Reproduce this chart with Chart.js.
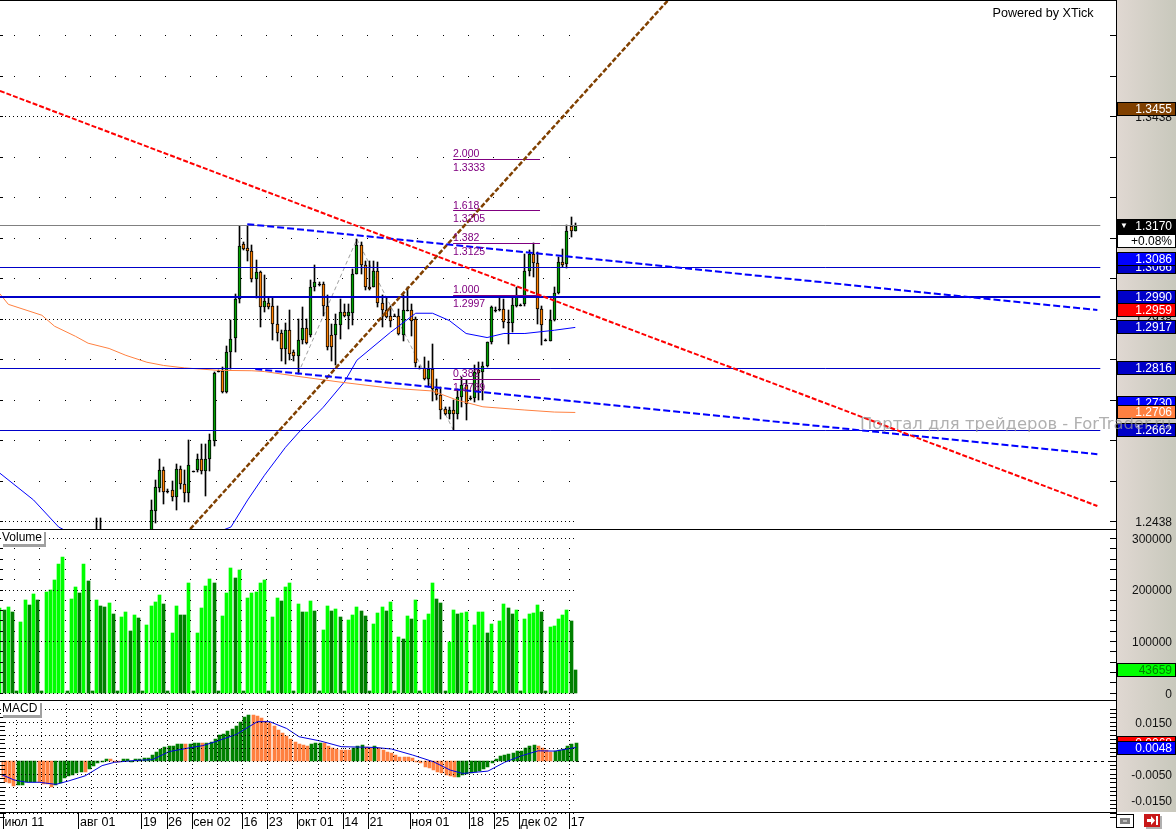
<!DOCTYPE html>
<html>
<head>
<meta charset="utf-8">
<title>XTick chart</title>
<script src="https://cdn.jsdelivr.net/npm/chart.js@4"></script>
<style>
    html, body { margin: 0; padding: 0; background: #fff; overflow: hidden; }
    canvas { display: block; }
</style>
</head>
<body>
<canvas id="priceChart" width="1176" height="530"></canvas>
<canvas id="volumeChart" width="1176" height="171"></canvas>
<canvas id="macdChart" width="1176" height="128"></canvas>
<script>
// candles are only visible from bar 35, volume and macd start one bar left of the edge
const firstCandle = 35;
const firstBar = -1;
const opens = [1.2415,1.2463,1.2520,1.2563,1.2512,1.2514,1.2498,1.2567,1.2530,1.2507,
    1.2562,1.2563,1.2592,1.2562,1.2591,1.2636,1.2808,1.2808,1.2756,1.2855,
    1.2889,1.2986,1.3122,1.3112,1.3105,1.3035,1.3054,1.2966,1.2976,1.2969,
    1.2925,1.2903,1.2863,1.2910,1.2855,1.2846,1.2885,1.2915,1.2898,1.3016,
    1.3023,1.3023,1.2969,1.2897,1.2897,1.2923,1.2954,1.2943,1.2952,1.3048,
    1.3119,1.3071,1.3017,1.3017,1.3055,1.2976,1.2959,1.2943,1.2945,1.2945,
    1.2898,1.2958,1.2959,1.2937,1.2816,1.2816,1.2789,1.2814,1.2765,1.2748,
    1.2715,1.2703,1.2713,1.2701,1.2744,1.2773,1.2742,1.2742,1.2810,1.2805,
    1.2820,1.2880,1.2960,1.2961,1.2962,1.2929,1.2928,1.2970,1.2972,1.2973,
    1.3056,1.3097,1.3075,1.2962,1.2885,1.2882,1.2935,1.3001,1.3078,1.3073,
    1.3167,1.3155];
const highs = [1.2489,1.2539,1.2590,1.2572,1.2516,1.2536,1.2578,1.2573,1.2563,1.2637,
    1.2562,1.2604,1.2627,1.2627,1.2652,1.2806,1.2811,1.2818,1.2871,1.2935,
    1.2999,1.3167,1.3126,1.3167,1.3120,1.3082,1.3056,1.3046,1.2989,1.2989,
    1.2970,1.2910,1.2928,1.2958,1.2859,1.2937,1.2966,1.2937,1.3032,1.3070,
    1.3027,1.3027,1.2995,1.2925,1.2949,1.2987,1.2974,1.2974,1.3060,1.3134,
    1.3126,1.3081,1.3079,1.3081,1.3077,1.2995,1.2990,1.2970,1.2948,1.2962,
    1.2995,1.3017,1.2974,1.2941,1.2820,1.2843,1.2834,1.2875,1.2789,1.2769,
    1.2719,1.2719,1.2736,1.2765,1.2793,1.2785,1.2746,1.2822,1.2830,1.2830,
    1.2880,1.2970,1.2966,1.2989,1.2986,1.2958,1.2989,1.3015,1.2974,1.3097,
    1.3107,1.3124,1.3101,1.2970,1.2887,1.2958,1.3017,1.3089,1.3110,1.3170,
    1.3189,1.3174];
const lows = [1.2410,1.2432,1.2510,1.2481,1.2507,1.2488,1.2465,1.2516,1.2485,1.2485,
    1.2562,1.2558,1.2553,1.2500,1.2562,1.2622,1.2805,1.2754,1.2754,1.2814,
    1.2855,1.2976,1.3107,1.3079,1.3027,1.2989,1.2917,1.2953,1.2962,1.2886,
    1.2882,1.2833,1.2826,1.2836,1.2834,1.2802,1.2875,1.2875,1.2892,1.3007,
    1.3019,1.2945,1.2859,1.2833,1.2822,1.2888,1.2941,1.2912,1.2921,1.3048,
    1.3048,1.3009,1.3009,1.3015,1.2966,1.2917,1.2940,1.2917,1.2943,1.2898,
    1.2882,1.2956,1.2896,1.2818,1.2813,1.2785,1.2769,1.2734,1.2736,1.2691,
    1.2699,1.2691,1.2662,1.2691,1.2719,1.2687,1.2738,1.2732,1.2736,1.2736,
    1.2818,1.2875,1.2953,1.2956,1.2915,1.2875,1.2904,1.2966,1.2969,1.2970,
    1.3044,1.3040,1.2925,1.2872,1.2883,1.2882,1.2933,1.2999,1.3064,1.3063,
    1.3140,1.3153];
const closes = [1.2465,1.2521,1.2563,1.2510,1.2512,1.2498,1.2567,1.2529,1.2507,1.2577,
    1.2562,1.2592,1.2562,1.2592,1.2637,1.2804,1.2808,1.2756,1.2856,1.2888,
    1.2986,1.3118,1.3110,1.3104,1.3036,1.3054,1.2966,1.2982,1.2967,1.2925,
    1.2903,1.2863,1.2910,1.2851,1.2846,1.2885,1.2915,1.2877,1.3016,1.3027,
    1.3023,1.2969,1.2867,1.2867,1.2925,1.2953,1.2943,1.2953,1.3048,1.3119,
    1.3070,1.3017,1.3012,1.3056,1.2976,1.2958,1.2941,1.2931,1.2945,1.2900,
    1.2958,1.2958,1.2931,1.2828,1.2816,1.2789,1.2814,1.2765,1.2748,1.2713,
    1.2703,1.2713,1.2703,1.2744,1.2773,1.2728,1.2742,1.2806,1.2803,1.2821,
    1.2880,1.2966,1.2960,1.2961,1.2929,1.2929,1.2972,1.2996,1.2972,1.3056,
    1.3097,1.3074,1.2962,1.2923,1.2885,1.2935,1.3001,1.3077,1.3071,1.3155,
    1.3155,1.3166];
// two wicks poke up into the panel before the candles start
const earlyWickBars = [22, 23];
const earlyWickHighs = [1.2445, 1.2445];

const volumes = [164000,160200,165400,155700,3200,136300,178900,169900,190600,178900,3200,
    194400,198300,217700,248700,262300,3200,181500,204800,192500,248700,
    215800,3200,178900,167300,165400,173100,151800,3200,146000,155700,
    118900,149900,144100,3200,131100,167300,175100,188600,171200,3200,
    115000,167300,149900,149900,211900,3200,115000,163400,206100,219600,
    211900,3200,147900,192500,241000,221600,237100,3200,182800,192500,
    194400,211900,217700,3200,146000,182800,177000,204100,211900,3200,
    171200,155700,155700,177000,157600,3200,120800,167300,157600,161500,
    146000,3200,140200,149900,165400,157600,147900,3200,132400,153700,
    165400,157600,175100,3200,107200,103400,147900,142100,178900,3200,
    140200,151800,211900,180900,173100,3200,97500,159600,151800,153700,
    155700,3200,130500,155700,155700,115000,132400,3200,138200,171200,
    163400,151800,159600,3200,142100,151800,153700,169300,155700,3200,
    127300,128600,142100,149900,159600,138200,43659];
const volumeRising = [1,0,1,0,0,1,1,0,1,0,0,1,1,1,1,1,0,1,1,0,1,0,0,1,0,0,1,0,0,1,1,0,1,0,0,
    1,1,1,1,0,0,1,1,0,0,1,0,1,1,1,1,0,0,1,1,1,0,1,0,1,1,1,1,1,0,1,1,0,1,1,0,
    1,0,1,1,0,0,1,1,0,1,0,0,1,1,1,0,0,0,1,1,1,0,1,0,1,0,1,0,1,0,1,1,1,0,0,0,
    1,1,0,1,1,0,1,1,1,0,1,0,1,1,0,0,1,0,1,1,1,1,0,0,1,1,1,1,1,0,0];

const macdHist = [-0.0062,-0.0081,-0.0086,-0.0096,-0.0094,-0.0094,-0.0081,-0.0081,-0.0081,-0.0081,-0.0091,
    -0.0091,-0.0100,-0.0094,-0.0085,-0.0068,-0.0058,-0.0055,-0.0049,-0.0045,-0.0045,
    -0.0033,-0.0019,-0.0010,-0.0002,0.0006,0.0005,-0.0002,-0.0002,0.0005,0.0005,
    -0.0002,0.0005,0.0006,0.0009,0.0009,0.0021,0.0035,0.0045,0.0054,0.0055,
    0.0058,0.0064,0.0064,0.0064,0.0064,0.0068,0.0068,0.0068,0.0067,0.0071,
    0.0083,0.0099,0.0101,0.0114,0.0121,0.0133,0.0150,0.0169,0.0176,0.0176,
    0.0172,0.0165,0.0153,0.0144,0.0133,0.0119,0.0108,0.0096,0.0082,0.0073,
    0.0063,0.0060,0.0056,0.0064,0.0068,0.0068,0.0068,0.0056,0.0049,0.0045,
    0.0041,0.0041,0.0041,0.0050,0.0056,0.0060,0.0054,0.0050,0.0056,0.0050,
    0.0041,0.0035,0.0031,0.0022,0.0015,0.0015,0.0014,0.0009,-0.0001,-0.0010,
    -0.0023,-0.0027,-0.0036,-0.0042,-0.0049,-0.0055,-0.0058,-0.0062,-0.0062,-0.0055,
    -0.0053,-0.0049,-0.0042,-0.0040,-0.0033,-0.0023,-0.0010,0.0006,0.0018,0.0022,
    0.0026,0.0029,0.0037,0.0037,0.0047,0.0056,0.0060,0.0056,0.0049,0.0041,
    0.0035,0.0037,0.0041,0.0045,0.0056,0.0064,0.0068];
const macdFallingBars = [-1,0,1,2,8,9,10,11,19,25,26,27,43,47,59,60,61,62,63,64,65,66,67,68,69,70,71,72,
    76,77,78,79,80,81,82,86,87,89,90,91,92,93,94,95,96,97,98,99,100,101,102,103,104,105,106,107,
    127,128,129,130];
const signalBars = [-1,2,5,8,12,15,19,23,26,31,35,39,43,47,50,55,60,63,67,70,75,80,88,92,97,102,106,109,115,119,123,127,131,136];
const signalValues = [-0.0053,-0.0074,-0.0083,-0.0083,-0.0091,-0.0078,-0.0058,-0.0019,-0.0006,0.0001,0.0004,0.0035,0.0047,0.0058,
    0.0073,0.0101,0.0150,0.0150,0.0124,0.0092,0.0076,0.0054,0.0051,0.0045,0.0022,-0.0004,-0.0036,-0.0049,-0.0040,-0.0006,0.0019,0.0038,0.0037,0.0051];
const signalLast = 0.0048;

const slowMaBars = [-1,1,9,12,17,20,25,29,34,38,43,51,59,62,70,80,92,102,108,114,124,131,136];
const slowMaValues = [1.2999,1.2973,1.2946,1.2919,1.2894,1.2877,1.2864,1.2847,1.2830,1.2822,1.2816,1.2810,1.2809,1.2807,1.2795,
    1.2781,1.2766,1.2759,1.2736,1.2720,1.2712,1.2707,1.2706];
const fastMaBars = [-1,7,13,30,54,58,62,67,70,76,81,84,92,98,102,106,110,115,119,124,131,136];
const fastMaValues = [1.2556,1.2490,1.2423,1.2330,1.2423,1.2490,1.2551,1.2620,1.2655,1.2719,1.2781,1.2835,1.2904,1.2951,1.2951,
    1.2933,1.2901,1.2891,1.2901,1.2901,1.2909,1.2916];

const redTrendBars = [-1, 260.3];
const redTrendPrices = [1.3500, 1.2475];
const upperTrendBars = [57.9, 260.3];
const upperTrendPrices = [1.3171, 1.2959];
const lowerTrendBars = [59.8, 260.3];
const lowerTrendPrices = [1.2813, 1.2603];
const brownTrendBars = [44.3, 158.1];
const brownTrendPrices = [1.2418, 1.3724];
const zigzagBars = [70, 84, 107];
const zigzagPrices = [1.2802, 1.3134, 1.2662];

const blueLevels = [1.3066, 1.2816, 1.2662];
const thickLevel = 1.2990;
const lastPrice = 1.3170;
const levelBars = [-1, 261];

const fibBars = [106.9, 127.6];
const fibRatios = ['2.000', '1.618', '1.382', '1.000', '0.382'];
const fibPrices = [1.3333, 1.3205, 1.3125, 1.2997, 1.2789];

const priceTicks = [1.2438,1.2538,1.2638,1.2738,1.2838,1.2938,1.3038,1.3138,1.3238,1.3338,1.3438,1.3538,1.3638];
const priceTickLabels = [1.2438, 1.2938, 1.3438];
const volumeTicks = [0,20000,40000,60000,80000,100000,120000,140000,160000,180000,200000,220000,240000,260000,280000,300000];
const volumeTickLabels = [0, 100000, 200000, 300000];
const macdTickLabels = [0.0150, 0.0050, -0.0050, -0.0150];

const dateBars = [-0.5,17.5,32.5,38.5,44.5,56.5,62.5,69.5,80.5,86.5,96.5,110.5,116.5,122.5,134.5];
const dateLabels = ['июл 11','авг 01','19','26','сен 02','16','23','окт 01','14','21','ноя 01','18','25','дек 02','17'];

const FONT = '"Liberation Sans", Arial, sans-serif';
const PURPLE = '#800080';
const NAVY = '#0000c8';
const BLUE = '#0000ff';
const ORANGE = '#ff8040';
const xMin = -4.1 / 4.2;
const xMax = (1116 - 4.1) / 4.2;
const gridEnd = 576;

let gridBars = [];
for (let b = 2.5; b <= 134.5; b += 6) {
    gridBars.push(b);
}

let macdTicks = [];
for (let k = -3; k <= 22; k++) {
    const v = 0.015 - k * 0.01 / 6;
    macdTicks.push({
        value: v,
        label: k >= 0 && k % 6 === 0 && macdTickLabels[k / 6] !== undefined ? macdTickLabels[k / 6].toFixed(4) : '',
        row: k % 3 === 0 ? 'dense' : 'none'
    });
}

function zip(xs, ys) {
    return xs.map((x, i) => ({ x: x, y: ys[i] }));
}

function line(xs, ys, color, width, dash, extra) {
    return Object.assign({
        type: 'line',
        data: zip(xs, ys),
        borderColor: color,
        borderWidth: width,
        borderDash: dash || [],
        pointRadius: 0,
        tension: 0,
        order: 3
    }, extra || {});
}

function level(price, color, width) {
    return line(levelBars, [price, price], color, width, null, { snapY: true, order: 2 });
}

function tagBox(ctx, top, h, bg, fg, text) {
    ctx.fillStyle = bg;
    ctx.fillRect(1117, top, 59, h);
    ctx.strokeStyle = '#000';
    ctx.lineWidth = 1;
    ctx.strokeRect(1117.5, top + 0.5, 58, h - 1);
    if (text) {
        ctx.fillStyle = fg;
        ctx.font = '12px ' + FONT;
        ctx.textAlign = 'right';
        ctx.textBaseline = 'middle';
        ctx.fillText(text, 1172, top + h / 2 + 0.5);
    }
}

// bars land on whole pixels, like the original terminal draws them
const snapPlugin = {
    id: 'snap',
    afterDatasetsUpdate(chart) {
        chart.data.datasets.forEach((ds, i) => {
            const meta = chart.getDatasetMeta(i);
            if (meta.type === 'bar') {
                meta.data.forEach(el => {
                    el.x = Math.floor(el.x) + 0.5;
                    el.y = Math.round(el.y);
                    el.base = Math.round(el.base);
                    if (el.y === el.base) el.base = el.y + 1;
                });
            } else if (ds.snapY) {
                meta.data.forEach(p => {
                    p.y = Math.round(p.y) + (ds.borderWidth % 2 ? 0.5 : 0);
                });
            }
        });
    }
};

function drawGrid(chart, cfg) {
    const ctx = chart.ctx;
    const xs = chart.scales.x;
    const ys = chart.scales.y;
    ctx.save();
    ctx.fillStyle = '#000';
    const gridX = gridBars.map(b => Math.floor(xs.getPixelForValue(b)));
    ys.ticks.forEach(t => {
        const y = Math.round(ys.getPixelForValue(t.value));
        if (t.row === 'dense') {
            for (let x = 1; x < gridEnd; x += 4) ctx.fillRect(x, y, 1, 1);
        } else if (t.row === 'sparse') {
            gridX.forEach(x => ctx.fillRect(x, y, 1, 1));
        }
    });
    if (cfg.denseColumns) {
        gridX.forEach(x => {
            for (let y = chart.chartArea.top + 3; y < chart.chartArea.bottom; y += 4) ctx.fillRect(x, y, 1, 1);
        });
    }
    ctx.restore();
}

function panelPlugin(cfg) {
    return {
        id: 'panel',
        beforeDatasetsDraw(chart) {
            if (!cfg.gridOnTop) drawGrid(chart, cfg);
        },
        afterDatasetsDraw(chart) {
            if (cfg.gridOnTop) drawGrid(chart, cfg);
        },
        beforeDraw(chart) {
            const ctx = chart.ctx;
            const bottom = chart.chartArea.bottom;
            const grad = ctx.createLinearGradient(1117, 0, 1176, 0);
            grad.addColorStop(0, '#e0d8d2');
            grad.addColorStop(1, '#c8c8bc');
            ctx.fillStyle = grad;
            ctx.fillRect(1117, 0, 59, bottom);
        },
        afterDraw(chart) {
            const ctx = chart.ctx;
            const ys = chart.scales.y;
            const bottom = chart.chartArea.bottom;
            ctx.save();
            ctx.fillStyle = '#000';
            ys.ticks.forEach(t => {
                const y = Math.round(ys.getPixelForValue(t.value));
                ctx.fillRect(0, y, cfg.leftTick, 1);
                ctx.fillRect(1110, y, 7, 1);
            });
            ctx.fillRect(1116, 0, 1, bottom);
            ctx.fillRect(0, cfg.lineY, 1117, 1);
            if (cfg.after) cfg.after(chart, ctx);
            ctx.restore();
        }
    };
}

function createPanel(id, cfg) {
    const ctx = document.getElementById(id).getContext('2d');
    return new Chart(ctx, {
        type: 'bar',
        data: { datasets: cfg.datasets },
        plugins: [snapPlugin, panelPlugin(cfg)],
        options: {
            responsive: false,
            animation: false,
            events: [],
            // the 4px on the right keeps the far-aligned tick labels off the window edge
            layout: { padding: { right: 4 }, autoPadding: false },
            plugins: { legend: { display: false }, tooltip: { enabled: false } },
            scales: {
                x: Object.assign({
                    type: 'linear',
                    display: false,
                    min: xMin,
                    max: xMax,
                    offset: false,
                    bounds: 'data',
                    grid: { display: false, offset: false }
                }, cfg.x || {}),
                y: {
                    type: 'linear',
                    position: 'right',
                    min: cfg.min,
                    max: cfg.max,
                    bounds: 'data',
                    border: { display: false },
                    grid: { display: false, drawTicks: false },
                    afterBuildTicks: s => { s.ticks = cfg.ticks.map(t => Object.assign({}, t)); },
                    afterFit: s => {
                        s.width = 56;
                        s.paddingTop = 0;
                        s.paddingBottom = 0;
                    },
                    ticks: {
                        autoSkip: false,
                        padding: 0,
                        labelOffset: 1.5,
                        crossAlign: 'far',
                        color: '#111',
                        font: { family: FONT, size: 12 },
                        callback: (v, i, ticks) => ticks[i].label
                    }
                }
            }
        }
    });
}

function legendBox(ctx, text, w) {
    ctx.fillStyle = '#a0a0a0';
    ctx.fillRect(3, 2, w, 15);
    ctx.fillStyle = '#fff';
    ctx.fillRect(1, 0, w, 14);
    ctx.fillStyle = '#000';
    ctx.font = '12px ' + FONT;
    ctx.textAlign = 'left';
    ctx.textBaseline = 'middle';
    ctx.fillText(text, 2, 8);
}

// price panel
const candleBars = opens.map((_, i) => firstCandle + i);
const wickData = candleBars.map((b, i) => ({ x: b, y: [lows[i], highs[i]] }))
    .concat(earlyWickBars.map((b, i) => ({ x: b, y: [1.2380, earlyWickHighs[i]] })));
const bodyColors = opens.map((o, i) => {
    if (o === closes[i]) return '#000';
    return closes[i] > o ? '#00a000' : '#ff8000';
});

const priceDatasets = [
    { data: wickData, backgroundColor: '#000', barThickness: 1, grouped: false, order: 11 },
    {
        data: candleBars.map((b, i) => ({ x: b, y: [opens[i], closes[i]] })),
        backgroundColor: bodyColors,
        borderColor: '#000',
        borderWidth: 1,
        borderSkipped: false,
        barThickness: 3,
        grouped: false,
        order: 10
    },
    line(slowMaBars, slowMaValues, ORANGE, 1),
    line(fastMaBars, fastMaValues, BLUE, 1),
    line(zigzagBars, zigzagPrices, '#a0a0a0', 1, [4, 3], { order: 12 }),
    level(lastPrice, '#808080', 1),
    level(thickLevel, NAVY, 2)
];
blueLevels.forEach(p => priceDatasets.push(level(p, NAVY, 1)));
fibPrices.forEach(p => priceDatasets.push(line(fibBars, [p, p], PURPLE, 1, null, { snapY: true, order: 2 })));
priceDatasets.push(line(redTrendBars, redTrendPrices, '#ff0000', 2, [5, 2], { order: 1 }));
priceDatasets.push(line(upperTrendBars, upperTrendPrices, BLUE, 2, [7, 3], { order: 1 }));
priceDatasets.push(line(lowerTrendBars, lowerTrendPrices, BLUE, 2, [7, 3], { order: 1 }));
priceDatasets.push(line(brownTrendBars, brownTrendPrices, '#804000', 2.5, [5, 2], { order: 1 }));

const priceTags = [
    [1.3455, '#804000', '#fff'],
    [1.3066, NAVY, '#fff'],
    [1.3086, BLUE, '#fff'],
    [1.2917, NAVY, '#fff'],
    [1.2990, NAVY, '#fff'],
    [1.2959, '#ff0000', '#fff'],
    [1.2816, NAVY, '#fff'],
    [1.2730, BLUE, '#fff'],
    [1.2706, ORANGE, '#fff'],
    [1.2662, NAVY, '#fff']
];

function drawPriceExtras(chart, ctx) {
    const ys = chart.scales.y;
    const xs = chart.scales.x;
    ctx.fillRect(0, 0, 1117, 1);

    // fibonacci captions
    ctx.font = '10.5px ' + FONT;
    ctx.fillStyle = PURPLE;
    ctx.textAlign = 'left';
    ctx.textBaseline = 'alphabetic';
    const fx = xs.getPixelForValue(fibBars[0]);
    fibPrices.forEach((p, i) => {
        const y = ys.getPixelForValue(p);
        ctx.fillText(fibRatios[i], fx, y - 1.5);
        ctx.fillText(p.toFixed(4), fx, y + 12);
    });

    priceTags.forEach(t => {
        const y = Math.round(ys.getPixelForValue(t[0]));
        tagBox(ctx, y - 7, 14, t[1], t[2], t[0].toFixed(4));
    });
    const lastY = Math.round(ys.getPixelForValue(lastPrice));
    tagBox(ctx, lastY - 6, 15, '#000', '#fff', lastPrice.toFixed(4));
    tagBox(ctx, lastY + 9, 14, '#fff', '#000', '+0.08%');
    ctx.fillStyle = '#fff';
    ctx.font = '8px ' + FONT;
    ctx.textAlign = 'left';
    ctx.fillText('▼', 1120, lastY + 1);

    ctx.fillStyle = '#000';
    ctx.font = '12.6px ' + FONT;
    ctx.textAlign = 'left';
    ctx.textBaseline = 'middle';
    ctx.fillText('Powered by XTick', 992.5, 14);

    ctx.fillStyle = 'rgba(150, 150, 150, 0.75)';
    ctx.font = '16.4px "DejaVu Sans", sans-serif';
    ctx.fillText('Портал для трейдеров - ForTrader.ru', 860, 425);
}

const priceTickList = priceTicks.map(v => ({
    value: v,
    label: priceTickLabels.includes(v) ? v.toFixed(4) : '',
    row: priceTickLabels.includes(v) ? 'dense' : 'sparse'
}));

createPanel('priceChart', {
    datasets: priceDatasets,
    min: 1.2438 - 9 / 4050,
    max: 1.2438 + 521 / 4050,
    ticks: priceTickList,
    leftTick: 3,
    lineY: 529,
    after: drawPriceExtras
});

// volume panel
const volumeTickList = volumeTicks.map(v => ({
    value: v,
    label: volumeTickLabels.includes(v) ? String(v) : '',
    row: volumeTickLabels.includes(v) ? 'dense' : 'sparse'
}));

createPanel('volumeChart', {
    datasets: [{
        data: volumes.map((v, i) => ({ x: i + firstBar, y: v })),
        backgroundColor: volumeRising.map(r => (r ? '#00ff00' : '#008000')),
        barThickness: 3,
        grouped: false,
        order: 5
    }],
    min: -(171 - 162.7) / 51.6 * 100000,
    max: 162.7 / 51.6 * 100000,
    ticks: volumeTickList,
    leftTick: 3,
    lineY: 170,
    gridOnTop: true,
    after(chart, ctx) {
        const y = Math.round(chart.scales.y.getPixelForValue(volumes[volumes.length - 1]));
        tagBox(ctx, y - 7, 14, '#00ff00', '#008000', String(volumes[volumes.length - 1]));
        legendBox(ctx, 'Volume', 43);
    }
});

// macd panel
function drawMacdExtras(chart, ctx) {
    const ys = chart.scales.y;
    const xs = chart.scales.x;
    const bottom = chart.chartArea.bottom;

    dateBars.forEach(b => {
        ctx.fillRect(Math.floor(xs.getPixelForValue(b)), bottom, 1, 17);
    });

    const histLast = macdHist[macdHist.length - 1];
    tagBox(ctx, Math.round(ys.getPixelForValue(histLast)) - 7, 14, '#ff0000', '#fff', histLast.toFixed(4));
    tagBox(ctx, Math.round(ys.getPixelForValue(signalLast)) - 7, 14, BLUE, '#fff', signalLast.toFixed(4));
    legendBox(ctx, 'MACD', 39);

    // link and exit buttons, bottom right
    ctx.fillStyle = '#fff';
    ctx.fillRect(1117, bottom, 59, 17);
    ctx.fillStyle = '#000';
    ctx.fillRect(1116, 113, 18, 14);
    ctx.fillStyle = '#fff';
    ctx.fillRect(1117, 114, 16, 12);
    ctx.fillStyle = '#808080';
    ctx.fillRect(1120, 117, 10, 6);
    ctx.fillStyle = '#c0c0c0';
    ctx.fillRect(1123, 119, 4, 2);
    ctx.fillStyle = '#b0b0b0';
    ctx.fillRect(1146, 115, 16, 13);
    ctx.fillStyle = '#c81818';
    ctx.fillRect(1144, 113, 16, 13);
    ctx.fillStyle = '#fff';
    ctx.fillRect(1147, 118, 5, 3);
    ctx.fillRect(1156, 115, 2, 9);
    ctx.beginPath();
    ctx.moveTo(1151, 115);
    ctx.lineTo(1155, 119.5);
    ctx.lineTo(1151, 124);
    ctx.fill();
}

createPanel('macdChart', {
    datasets: [
        {
            data: macdHist.map((v, i) => ({ x: i + firstBar, y: v })),
            backgroundColor: macdHist.map((_, i) => (macdFallingBars.includes(i + firstBar) ? ORANGE : '#008000')),
            barThickness: 3,
            grouped: false,
            order: 5
        },
        line(signalBars, signalValues, '#0000e0', 1, null, { order: 1 }),
        line([136, 265], [0, 0], '#000', 1, [3, 4], { snapY: true, order: 6 })
    ],
    min: -(111 - 59.7) / 2600,
    max: 59.7 / 2600,
    ticks: macdTicks,
    leftTick: 5,
    lineY: 111,
    denseColumns: true,
    gridOnTop: true,
    x: {
        display: true,
        afterBuildTicks: s => { s.ticks = dateBars.map(v => ({ value: v })); },
        afterFit: s => { s.height = 17; },
        border: { display: false },
        grid: { display: false, drawTicks: false, offset: false },
        ticks: {
            autoSkip: false,
            maxRotation: 0,
            minRotation: 0,
            align: 'start',
            labelOffset: 1,
            padding: 3.5,
            color: '#000',
            font: { family: FONT, size: 12.5 },
            callback: (v, i) => dateLabels[i]
        }
    },
    after: drawMacdExtras
});
</script>
</body>
</html>
